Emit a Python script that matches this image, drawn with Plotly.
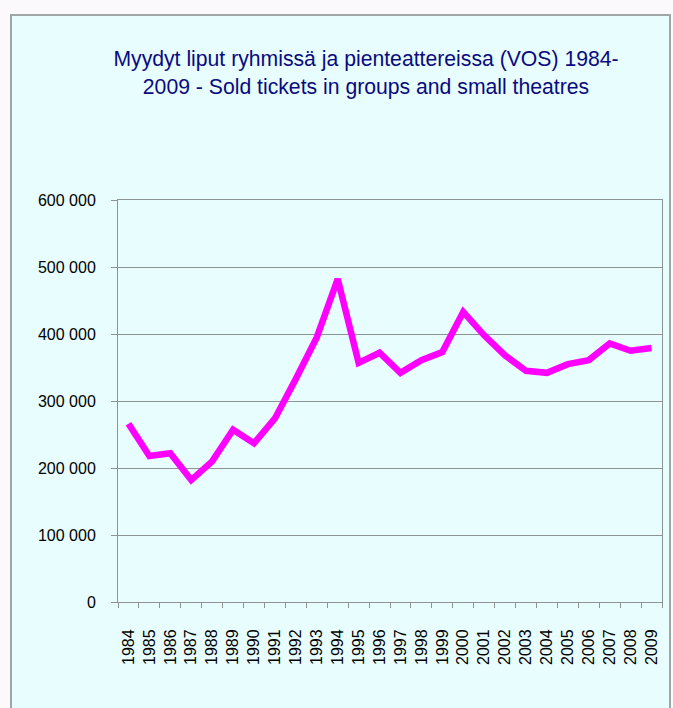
import plotly.graph_objects as go

years = [str(y) for y in range(1984, 2010)]
tickets = [266000, 218000, 222000, 182000, 210000, 257000, 237000, 274000, 333000, 395000,
           482000, 357000, 372000, 342000, 361000, 373000, 433000, 398000, 368000, 345000,
           342000, 355000, 361000, 386000, 375000, 379000]
y_tickvals = [0, 100000, 200000, 300000, 400000, 500000, 600000]
y_ticktext = ["0", "100 000", "200 000", "300 000", "400 000", "500 000", "600 000"]
title_text = "Myydyt liput ryhmissä ja pienteattereissa (VOS) 1984-<br>2009 - Sold tickets in groups and small theatres"

W, H = 673, 708
L, R, T, B = 118, 11, 200, 106
pw, ph = W - L - R, H - T - B

fig = go.Figure()
fig.add_trace(go.Scatter(x=years, y=tickets, mode="lines",
                         line=dict(color="#FF00FF", width=6.5), hoverinfo="x+y"))

grid = "#8C9494"
fig.update_layout(
    width=W, height=H,
    margin=dict(l=L, r=R, t=T, b=B, pad=0),
    paper_bgcolor="#FCF9FC",
    plot_bgcolor="rgba(0,0,0,0)",
    showlegend=False,
    font=dict(family="Liberation Sans, Arial, sans-serif", color="#000000", size=16),
    title=dict(text=title_text, x=366 / W, xanchor="center", y=1 - 66 / H, yanchor="top",
               font=dict(size=21.2, color="#0A0A80", family="Liberation Sans, Arial, sans-serif")),
    shapes=[dict(type="rect", xref="paper", yref="paper", layer="below",
                 x0=(11 - L) / pw, x1=(670 - L) / pw,
                 y0=-0.5, y1=(H - B - 15) / ph,
                 fillcolor="#E8FDFD", line=dict(color="#A0A6A6", width=2))],
)
fig.update_xaxes(type="category", range=[-0.5, len(years) - 0.5], showgrid=False,
                 showline=True, linecolor=grid, linewidth=1,
                 mirror=True, ticks="outside", tickson="boundaries", ticklen=5, tickcolor=grid,
                 tickangle=-90, ticklabelstandoff=20, tickfont=dict(size=16))
fig.update_yaxes(range=[0, 600000], tickvals=y_tickvals, ticktext=y_ticktext,
                 showgrid=True, gridcolor=grid, gridwidth=1, zeroline=False,
                 showline=True, linecolor=grid, linewidth=1, mirror=True,
                 ticks="outside", ticklen=6, tickcolor=grid, ticklabelstandoff=12,
                 tickfont=dict(size=16))

fig.write_html("out.html", config={"displayModeBar": False},
               post_script="document.body.style.margin='0';document.body.style.overflow='hidden';")
